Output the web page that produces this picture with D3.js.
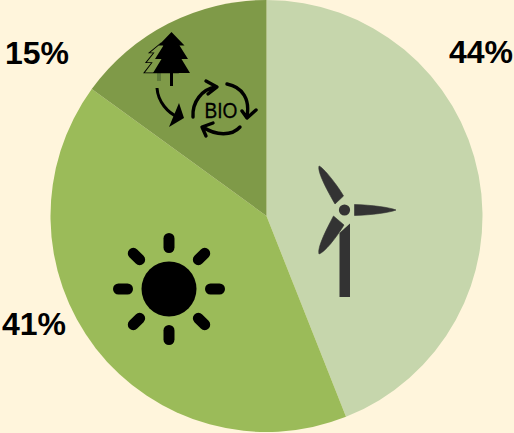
<!DOCTYPE html>
<html><head><meta charset="utf-8">
<script src="https://cdn.jsdelivr.net/npm/d3@7/dist/d3.min.js"></script>
<style>html,body{margin:0;padding:0;background:#FFF5DC;overflow:hidden}svg{display:block}</style>
</head><body><svg id="c" width="514" height="433"></svg>
<script>
const categories = ["Wind","Solar","Biomass"];
const shares = [44,41,15];
const colors = ["#C6D6AC","#9BBB59","#7F9A48"];
const labels = ["44%","41%","15%"];

const svg = d3.select("#c");
const pie = d3.pie().sort(null).value(d=>d);
const arc = d3.arc().innerRadius(0).outerRadius(216);
svg.append("g").attr("transform","translate(266.5,216)")
  .selectAll("path").data(pie(shares)).join("path")
  .attr("d",arc).attr("fill",(d,i)=>colors[i]);

const lp = [[481,63],[34,335],[37,64]];
svg.selectAll("text.l").data(labels).join("text").attr("class","l")
  .attr("x",(d,i)=>lp[i][0]).attr("y",(d,i)=>lp[i][1])
  .attr("text-anchor","middle")
  .attr("font-family","'Liberation Sans',Arial,sans-serif").attr("font-weight","bold")
  .attr("font-size",32).attr("fill","#000").text(d=>d);

// Wind turbine icon
const w = svg.append("g").attr("fill","#333333");
w.append("circle").attr("cx",344.5).attr("cy",210).attr("r",5.6);
w.append("path").attr("d","M339.5 297V233L350 223.5V297Z");
const blades = w.append("g").attr("stroke","#333333").attr("stroke-width",.6).attr("stroke-linejoin","round");
blades.append("path").attr("d","M319 166C323 167 338 186 343.5 196L335 204C328 192 317 172 319 166Z");
blades.append("path").attr("d","M354.5 204.500C372 205 390 207.500 396 210C390 212.500 372 215 354.500 215.500Z");
blades.append("path").attr("d","M319 254C317 248 326 230 333.500 216L344 225C336 238 325 252 319 254Z");

// Sun icon
const s = svg.append("g").attr("transform","translate(169,289)");
s.append("circle").attr("r",27.500).attr("fill","#000");
d3.range(8).forEach(i=>{
  s.append("rect").attr("x",-5.500).attr("y",-56).attr("width",11).attr("height",20).attr("rx",5.500)
   .attr("transform",`rotate(${i*45})`).attr("fill","#000");
});

// Trees
const treeD="M0 0L13 13.500H8L16.500 27H10L18.500 41H-18.500L-10 27H-16.500L-8 13.500H-13Z";
svg.append("rect").attr("x",157).attr("y",73).attr("width",4).attr("height",8).attr("fill","#5F7A3A");
svg.append("path").attr("d",treeD).attr("transform","translate(161,43) scale(.92,.73)")
  .attr("fill","none").attr("stroke","#000").attr("stroke-width",1.100);
svg.append("path").attr("d",treeD).attr("transform","translate(171.500,32)").attr("fill","#000");
svg.append("rect").attr("x",170).attr("y",72).attr("width",3).attr("height",14).attr("fill","#000");

// Arrow to BIO
svg.append("path").attr("d","M157 88C158 102 168 113 178 117").attr("fill","none").attr("stroke","#000").attr("stroke-width",3);
svg.append("path").attr("d","M179 103L184 118L169 127Z").attr("fill","#000");

// BIO cycle
svg.append("text").attr("x",221).attr("y",118).attr("text-anchor","middle")
  .attr("font-family","'Liberation Sans',Arial,sans-serif").attr("font-size",22)
  .attr("textLength",33).attr("lengthAdjust","spacingAndGlyphs")
  .attr("stroke","#000").attr("stroke-width",.3).attr("fill","#000").text("BIO");
const cyc = svg.append("g").attr("fill","none").attr("stroke","#000").attr("stroke-width",3.400).attr("stroke-linecap","round").attr("stroke-linejoin","round");
cyc.append("path").attr("d","M193 117C192 102 202 89 216 87M206 81L217 87L208 94");
cyc.append("path").attr("d","M227 84C243 87 250 100 247 116M242 111L247 118L256 110");
cyc.append("path").attr("d","M240 127C232 136 216 136 203 127M213 123L202 127L206 136");
</script></body></html>
